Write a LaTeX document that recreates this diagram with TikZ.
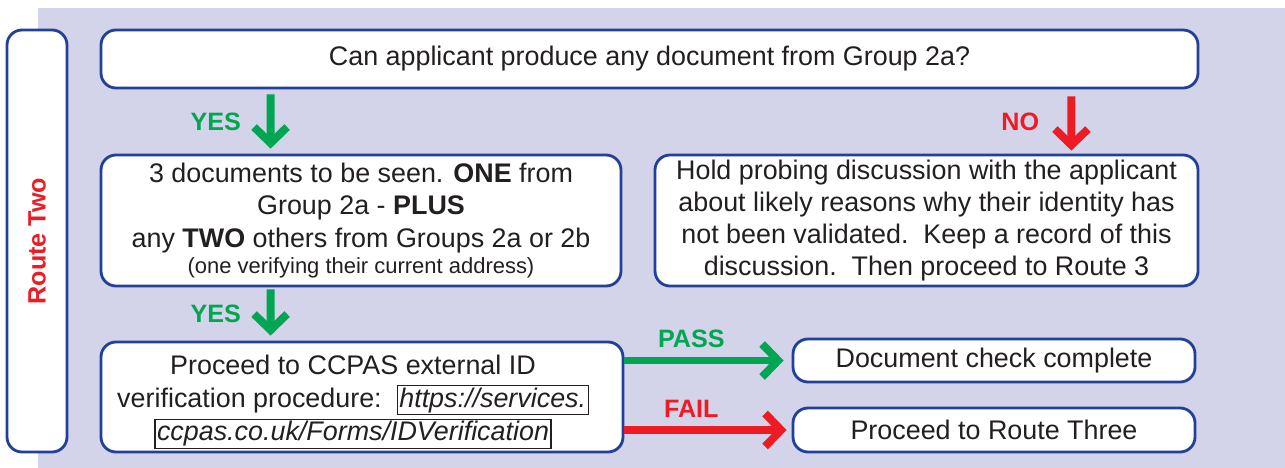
\documentclass[tikz,border=0pt]{standalone}
\usepackage{fontspec}
\setmainfont{Liberation Sans}
\usetikzlibrary{arrows.meta,positioning}
\definecolor{lavbg}{RGB}{211,211,234}
\definecolor{boxblue}{RGB}{35,64,153}
\definecolor{yesgreen}{RGB}{0,166,81}
\definecolor{nored}{RGB}{237,28,36}
\definecolor{inkdark}{RGB}{35,31,32}
\newcommand{\urlbox}[1]{{\setlength{\fboxsep}{0.8pt}\setlength{\fboxrule}{0.7pt}\raisebox{0pt}[0pt][0pt]{\fbox{\itshape #1}}\strut}}
\tikzset{
  stepbox/.style={draw=boxblue, line width=1.6pt, fill=white, rounded corners=0.3cm,
    align=center, text=inkdark, inner sep=0pt, font=\fontsize{15.3}{18.3}\selectfont},
  goarrow/.style={line width=4.5pt, -{Straight Barb[length=0.32cm,width=0.66cm]}},
  arrowlbl/.style={font=\fontsize{14.3}{16}\selectfont\bfseries}
}
\begin{document}
\begin{tikzpicture}
    \useasboundingbox (0,0) rectangle (25.7,-9.36);
    \fill[lavbg] (0.76,-0.16) rectangle (25.7,-9.36);
    \node[stepbox, minimum width=1.2cm, minimum height=8.44cm] (route) at (0.74,-4.82) {};
    \node[rotate=90, text=nored, arrowlbl] (routelbl) at (route) {Route Two};
    \node[stepbox, minimum width=21.94cm, minimum height=1.16cm] (ask) at (12.99,-1.18) {Can applicant produce any document from Group 2a?};
    \node[stepbox, minimum width=10.4cm, minimum height=2.62cm] (docs) at (7.22,-4.41)
        {3 documents to be seen. \textbf{ONE} from\\ Group 2a - \textbf{PLUS}\\ any \textbf{TWO} others from Groups 2a or 2b\\[-3.5pt] {\fontsize{12.5}{13}\selectfont (one verifying their current address)}};
    \node[stepbox, minimum width=10.86cm, minimum height=2.62cm] (probe) at (18.53,-4.41)
        {Hold probing discussion with the applicant\\ about likely reasons why their identity has\\ not been validated.\ \ Keep a record of this\\ discussion.\ \ Then proceed to Route 3};
    \node[stepbox, minimum width=10.44cm, minimum height=2.2cm] (cv) at (7.24,-7.94) {};
    \node[stepbox, draw=none, fill=none] (cvtext) at ([xshift=-0.18cm,yshift=-0.12cm]cv)
        {Proceed to CCPAS external ID\\ verification procedure:\ \ \urlbox{https://services.}\\[1pt] \urlbox{ccpas.co.uk/Forms/IDVerification}};
    \node[stepbox, minimum width=8.04cm, minimum height=0.86cm] (done) at (19.88,-7.21) {Document check complete};
    \node[stepbox, minimum width=8.04cm, minimum height=0.88cm] (route3) at (19.88,-8.6) {Proceed to Route Three};
    \draw[goarrow, yesgreen, shorten <=0.1cm, shorten >=0.1cm] ([xshift=3.42cm]ask.south west) -- ([xshift=3.42cm]docs.north west)
        node[midway, left=0.4cm, arrowlbl] {YES};
    \draw[goarrow, nored, shorten <=0.14cm, shorten >=0.06cm] ([xshift=-2.56cm]ask.south east) -- ([xshift=-2.56cm]probe.north east)
        node[midway, left=0.45cm, arrowlbl] {NO};
    \draw[goarrow, yesgreen, shorten <=0.04cm, shorten >=0.1cm] ([xshift=3.42cm]docs.south west) -- ([xshift=3.42cm]cv.north west)
        node[midway, left=0.4cm, arrowlbl] {YES};
    \draw[goarrow, yesgreen, shorten >=0.16cm] (cv.east |- done.west) -- (done.west)
        node[pos=0.4, above=0.06cm, arrowlbl] {PASS};
    \draw[goarrow, nored, shorten >=0.1cm] (cv.east |- route3.west) -- (route3.west)
        node[pos=0.4, above=0.06cm, arrowlbl] {FAIL};
\end{tikzpicture}
\end{document}
